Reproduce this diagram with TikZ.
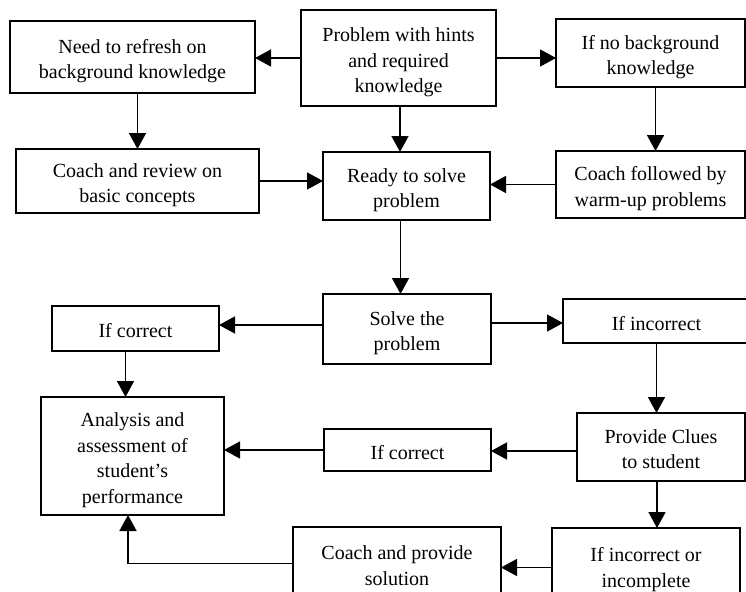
\documentclass[tikz,border=0pt]{standalone}
\usepackage{fontspec}
\setmainfont{Liberation Serif}
\usetikzlibrary{arrows.meta}
\newcommand\bx[6]{\node[box,minimum width={(#4-#2)*1pt},minimum height={(#5-#3)*1pt}] (#1) at ({(#2+#4)/2},{(#3+#5)/2}) {\raisebox{-4pt}[\height][\depth]{\begin{tabular}{@{}c@{}}#6\end{tabular}}};}
\begin{document}
\begin{tikzpicture}[x=1pt,y=-1pt,
  box/.style={draw,line width=1.5pt,rectangle,inner sep=0pt,outer sep=0pt,align=center,font=\fontsize{20}{25.5}\selectfont},
  arr/.style={line width=1.5pt,-{Triangle[length=16pt,width=17pt]}}]
\useasboundingbox (0,0) rectangle (746,591);
\clip (0,0) rectangle (746,591);
\bx{b1}{10}{21}{255}{93}{Need to refresh on\\background knowledge}
\bx{b2}{301}{10}{496}{106}{Problem with hints\\and required\\knowledge}
\bx{b3}{556}{19}{745}{87}{If no background\\knowledge}
\bx{b4}{16}{149}{259}{213}{Coach and review on\\basic concepts}
\bx{b5}{323}{152}{490}{220}{Ready to solve\\problem}
\bx{b6}{556}{151}{745}{218}{Coach followed by\\warm-up problems}
\bx{solve}{323}{294}{491}{364}{Solve the\\problem}
\bx{ic1}{52}{306}{219}{351}{If correct}
\bx{inc}{563}{299}{750}{343}{If incorrect}
\bx{an}{41}{397}{224}{515}{Analysis and\\assessment of\\student’s\\performance}
\bx{ic2}{324}{429}{491}{471}{If correct}
\bx{clue}{577}{413}{745}{481}{Provide Clues\\to student}
\bx{coach}{293}{527}{501}{600}{Coach and provide\\solution}
\bx{inco}{552}{528}{740}{603}{If incorrect or\\incomplete}

\draw[arr] (b2.west) -- (b2.west -| b1.east);
\draw[arr] (b2.east) -- (b2.east -| b3.west);
\draw[arr] (b1.south -| b4.north) -- (b4.north);
\draw[arr] ([xshift=1.5pt]b2.south) -- ([xshift=1.5pt]b2.south |- b5.north);
\draw[arr] ([xshift=5pt]b3.south) -- ([xshift=5pt]b3.south |- b6.north);
\draw[arr] (b4.east) -- (b4.east -| b5.west);
\draw[arr] (b6.west) -- (b6.west -| b5.east);
\draw[arr] ([xshift=-6pt]b5.south) -- ([xshift=-6pt]b5.south |- solve.north);
\draw[arr] ([yshift=4pt]solve.west) -- ([yshift=4pt]solve.west -| ic1.east);
\draw[arr] ([yshift=6pt]solve.east) -- ([yshift=6pt]solve.east -| inc.west);
\draw[arr] ([xshift=-10pt]ic1.south) -- ([xshift=-10pt]ic1.south |- an.north);
\draw[arr] (inc.south) -- (inc.south |- clue.north);
\draw[arr] ([yshift=-4pt]clue.west) -- ([yshift=-4pt]clue.west -| ic2.east);
\draw[arr] (ic2.west) -- (ic2.west -| an.east);
\draw[arr] ([xshift=-4pt]clue.south) -- ([xshift=-4pt]clue.south |- inco.north);
\draw[arr] ([yshift=-2pt]inco.west) -- ([yshift=-2pt]inco.west -| coach.east);
\draw[arr] (coach.west) -| ([xshift=-4.5pt]an.south);
\end{tikzpicture}
\end{document}
